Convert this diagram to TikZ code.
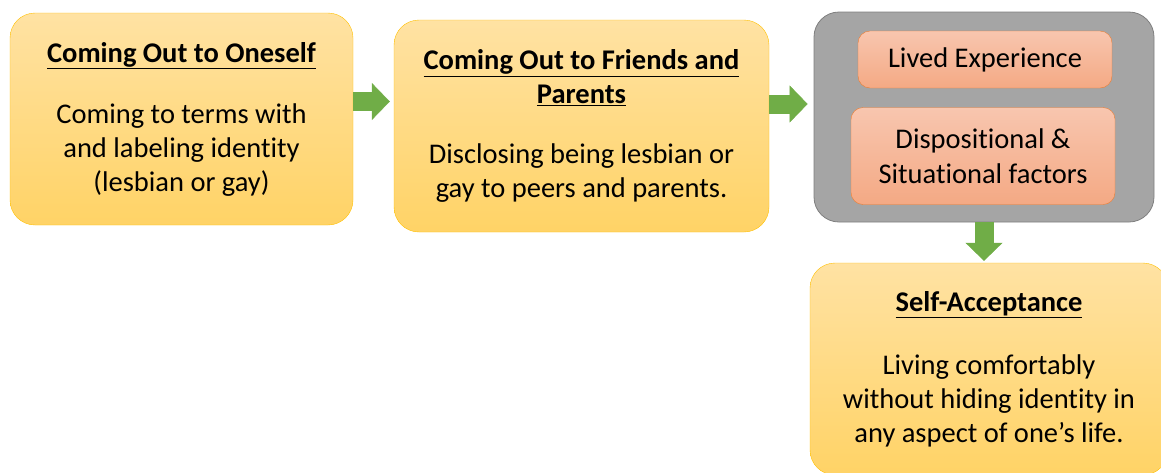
\documentclass[tikz,border=0pt]{standalone}
\usepackage{fontspec}
\setmainfont[Ligatures=NoCommon]{Carlito}
\usetikzlibrary{arrows.meta}

\definecolor{boxtop}{HTML}{FFE2A3}
\definecolor{boxbottom}{HTML}{FFD366}
\definecolor{boxline}{HTML}{FFC000}
\definecolor{facttop}{HTML}{F8C6AF}
\definecolor{factbottom}{HTML}{F4A984}
\definecolor{factline}{HTML}{ED7D31}
\definecolor{grayfill}{HTML}{A5A5A5}
\definecolor{grayline}{HTML}{7F7F7F}
\definecolor{arrowgreen}{HTML}{70AD47}
\tikzstyle{stage} = [draw=boxline, thin, rounded corners=25pt, top color=boxtop, bottom color=boxbottom, align=center, inner sep=0pt, font=\fontsize{28.5}{34}\selectfont]

\begin{document}
\begin{tikzpicture}[x=1pt,y=-1pt,
			factor/.style = {draw=factline, thin, rounded corners=12pt, top color=facttop, bottom color=factbottom, align=center, inner sep=0pt, font=\fontsize{28.5}{35}\selectfont},
			holder/.style = {draw=grayline, thick, rounded corners=25pt, fill=grayfill, inner sep=0pt},
			flow/.style = {arrowgreen, line width=19pt, -{Triangle[length=18pt,width=37pt,line width=0.4pt]}}]
			\useasboundingbox (0,0) rectangle (1161,472);
			\clip (0,0) rectangle (1161,472);
			\node (1)[stage, minimum width=343pt, minimum height=212pt] at (181.5,119)
				{\underline{\textbf{Coming Out to Oneself}}\\[27pt]Coming to terms with\\and labeling identity\\(lesbian or gay)};
			\node (2)[stage, minimum width=375pt, minimum height=212pt] at (581.5,126)
				{\underline{\textbf{Coming Out to Friends and}}\\\underline{\textbf{Parents}}\\[26pt]Disclosing being lesbian or\\gay to peers and parents.};
			\node (3)[holder, minimum width=340pt, minimum height=210pt] at (984,117) {};
			\node (31)[factor, minimum width=254pt, minimum height=57pt] at (985,59.5) {Lived Experience};
			\node (32)[factor, minimum width=264pt, minimum height=97pt] at (983,156) {Dispositional \&\\Situational factors};
			\node (4)[stage, minimum width=358pt, minimum height=212pt] at (989,369)
				{\underline{\textbf{Self-Acceptance}}\\[29pt]Living comfortably\\without hiding identity in\\any aspect of one’s life.};

			\draw[flow, shorten >=4pt] ([yshift=17.5pt]1.east) -- ([yshift=24.5pt]2.west);
			\draw[flow, shorten >=6pt] ([yshift=22pt]2.east) -- ([yshift=13pt]3.west);
			\draw[flow, shorten >=2pt] (3.south) -- ([xshift=-5pt]4.north);
		\end{tikzpicture}
\end{document}
